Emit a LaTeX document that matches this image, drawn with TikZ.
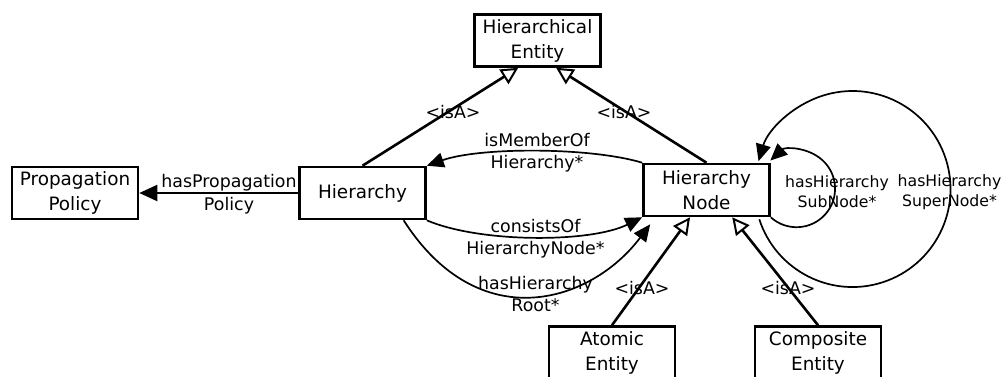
\documentclass[tikz,border=0pt]{standalone}
\usepackage{fontspec}
\setmainfont{DejaVu Sans}
\usetikzlibrary{arrows.meta,calc}
\begin{document}
\begin{tikzpicture}[x=1pt,y=-1pt,
  cls/.style={draw, line width=2.6pt, fill=white, align=center, inner sep=0pt,
    minimum width=126pt, minimum height=52pt, font=\fontsize{18.4}{25}\selectfont},
  lbl/.style={align=center, inner sep=0pt, font=\fontsize{17.4}{22.5}\selectfont},
  loopl/.style={align=center, inner sep=0pt, font=\fontsize{15.7}{20}\selectfont},
  isa/.style={line width=2.6pt, -{Triangle[open, length=17pt, width=17pt, line width=2pt, fill=white]}},
  assoc/.style={line width=1.7pt, -{Triangle[length=17pt, width=15pt]}},
  plain/.style={line width=2pt, -{Triangle[length=18pt, width=16pt]}},
]
\clip (0,0) rectangle (1002,376);
\fill[white] (0,0) rectangle (1002,376);

% classes
\node[cls] (HE) at (537.5,40.5) {Hierarchical\\Entity};
\node[cls] (PP) at (75,193) {Propagation\\Policy};
\node[cls] (H)  at (362.5,193) {Hierarchy};
\node[cls] (HN) at (706.5,190) {Hierarchy\\Node};
\node[cls] (AE) at (612,352.5) {Atomic\\Entity};
\node[cls] (CE) at (818,352.5) {Composite\\Entity};

% generalisations
\draw[isa] (H.north)  -- ($(HE.south west)!0.35!(HE.south east)$);
\draw[isa] (HN.north) -- ($(HE.south west)!0.645!(HE.south east)$);
\draw[isa] (AE.north) -- ($(HN.south west)!0.372!(HN.south east)$);
\draw[isa] (CE.north) -- ($(HN.south west)!0.70!(HN.south east)$);

% associations
\draw[plain] (H.west) -- (PP.east);
\draw[assoc] (HN.north west) .. controls (590,147) and (480,147) .. (H.north east);
\draw[assoc] (H.south east) .. controls (480,243) and (590,243) .. (HN.south west);
\coordinate (rootA) at ($(H.south west)!0.82!(H.south east)$);
\coordinate (rootB) at ($(HN.south west)+(8,7)$);
\draw[assoc] (rootA) .. controls (479,338) and (591,303) .. (rootB);

% self references
\draw[assoc] (HN.south east) arc[start angle=132, end angle=-133, radius=38.5];
\coordinate (supA) at ($(HN.south east)+(-11.5,2)$);
\draw[assoc] (supA) arc[start angle=162, end angle=-163.5, radius=98];

% labels
\node[lbl] (lprop) at (229,194) {hasPropagation\\Policy};
\node[lbl] (lmem) at (537,152.5) {isMemberOf\\Hierarchy*};
\node[lbl] (lcons) at (535.5,238.5) {consistsOf\\HierarchyNode*};
\node[lbl] (lroot) at (535.5,294) {hasHierarchy\\Root*};
\node[loopl] (lsub) at (837,192) {hasHierarchy\\SubNode*};
\node[loopl] (lsup) at (949.5,192) {hasHierarchy\\SuperNode*};
\node[lbl] (isa1) at (453,112) {<isA>};
\node[lbl] (isa2) at (624,112) {<isA>};
\node[lbl] (isa3) at (642,288) {<isA>};
\node[lbl] (isa4) at (788,288) {<isA>};
\end{tikzpicture}
\end{document}
